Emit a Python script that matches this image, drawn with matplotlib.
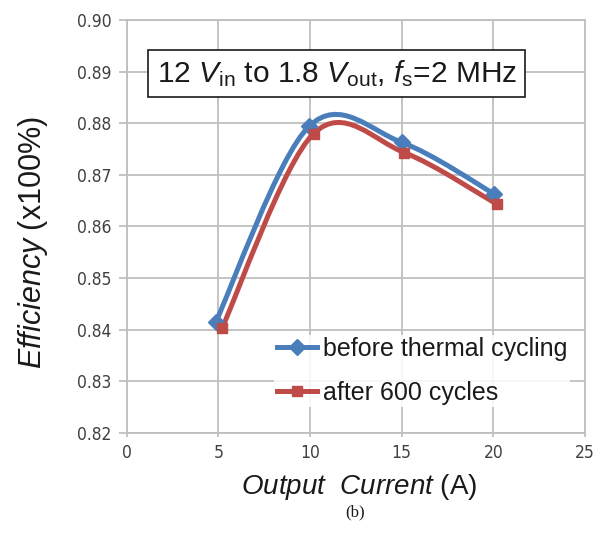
import numpy as np
import matplotlib
matplotlib.use("Agg")
import matplotlib.pyplot as plt
from matplotlib.path import Path
from matplotlib.patches import PathPatch
from matplotlib.lines import Line2D

# ---- data ----
before_x = [4.85, 9.95, 15.0, 20.05]
before_y = [0.8414, 0.8794, 0.8763, 0.8663]
after_x = [5.2, 10.2, 15.15, 20.2]
after_y = [0.8403, 0.8780, 0.8743, 0.8643]
x_ticks = [0, 5, 10, 15, 20, 25]
y_ticks = [0.82, 0.83, 0.84, 0.85, 0.86, 0.87, 0.88, 0.89, 0.90]
series_labels = ["before thermal cycling", "after 600 cycles"]

BLUE = "#4A7EBB"
RED = "#BE4B48"
GRID = "#BFBFBF"

plt.rcParams['mathtext.fontset'] = 'custom'
plt.rcParams['mathtext.rm'] = 'Liberation Sans'
plt.rcParams['mathtext.it'] = 'Liberation Sans:italic'

fig = plt.figure(figsize=(6.05, 5.38), dpi=100)
ax = fig.add_axes([0.2093, 0.1952, 0.7576, 0.7677])
ax.set_xlim(0, 25)
ax.set_ylim(0.82, 0.90)
ax.set_xticks(x_ticks)
ax.set_yticks(y_ticks)
ax.set_yticklabels([f"{v:.2f}" for v in y_ticks])
ax.grid(True, color=GRID, linewidth=1.3)
ax.set_axisbelow(True)
for s in ax.spines.values():
    s.set_color(GRID)
    s.set_linewidth(1.3)
ax.tick_params(axis='y', length=6, width=1.3, color=GRID, labelsize=12.5, labelcolor="#404040", pad=5)
ax.tick_params(axis='x', length=3, width=1.3, color=GRID, labelsize=12.5, labelcolor="#404040", pad=5)
for lab in ax.get_xticklabels() + ax.get_yticklabels():
    lab.set_family('DejaVu Sans')
    lab.set_stretch('condensed')


def smooth_path(xs, ys):
    pts = np.column_stack([xs, ys]).astype(float)
    n = len(pts)
    verts = [pts[0]]
    codes = [Path.MOVETO]
    for i in range(n - 1):
        p_prev = pts[i - 1] if i > 0 else pts[i]
        p_next2 = pts[i + 2] if i + 2 < n else pts[i + 1]
        c1 = pts[i] + (pts[i + 1] - p_prev) / 6.0
        c2 = pts[i + 1] - (p_next2 - pts[i]) / 6.0
        verts += [c1, c2, pts[i + 1]]
        codes += [Path.CURVE4] * 3
    return Path(verts, codes)


for xs, ys, col, mk, ms in [(before_x, before_y, BLUE, 'D', 8.5),
                            (after_x, after_y, RED, 's', 7.5)]:
    patch = PathPatch(smooth_path(xs, ys), facecolor='none', edgecolor=col,
                      linewidth=3.6, capstyle='round', joinstyle='round', zorder=3)
    ax.add_patch(patch)
    ax.plot(xs, ys, linestyle='none', marker=mk, markersize=ms, color=col, zorder=4)

# title box
ax.text(11.46, 0.8896, r"12 $V_{\mathrm{in}}$ to 1.8 $V_{\mathrm{out}}$, $f_{\mathrm{s}}$=2 MHz",
        ha='center', va='center', fontsize=21.5, family='Liberation Sans', color='#1a1a1a',
        bbox=dict(boxstyle='square,pad=0.28', facecolor='white', edgecolor='#1a1a1a', linewidth=1.2),
        zorder=5)

# legend
handles = [Line2D([0], [0], color=BLUE, lw=3.6, marker='D', markersize=8.5),
           Line2D([0], [0], color=RED, lw=3.6, marker='s', markersize=7.5)]
leg = ax.legend(handles, series_labels, loc='upper left', bbox_to_anchor=(0.322, 0.238),
                frameon=True, handlelength=1.6, handletextpad=0.25,
                labelspacing=0.78, borderpad=0.1, borderaxespad=0,
                prop={'family': 'Liberation Sans', 'size': 18})
leg.get_frame().set_facecolor('white')
leg.get_frame().set_edgecolor('none')
leg.get_frame().set_alpha(0.85)
for t in leg.get_texts():
    t.set_color('#1a1a1a')

# axis labels
fig.text(0.055, 0.549, r"$\mathit{Efficiency}$ (x100%)", rotation=90, ha='center', va='center',
         fontsize=22, family='Liberation Sans', color='#1a1a1a')
fig.text(0.593, 0.095, r"$\mathit{Output\ \ Current}$ (A)", ha='center', va='center',
         fontsize=20, family='Liberation Sans', color='#1a1a1a')
fig.text(0.587, 0.048, "(b)", ha='center', va='center', fontsize=12,
         family='Liberation Serif', color='#1a1a1a')

fig.savefig("out.png", dpi=100, facecolor='white')
